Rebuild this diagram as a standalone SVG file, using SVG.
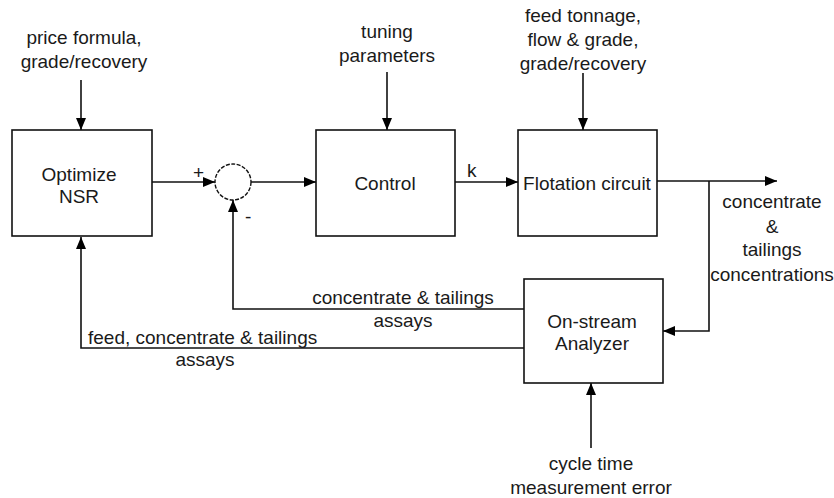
<svg xmlns="http://www.w3.org/2000/svg" width="834" height="498" viewBox="0 0 834 498">
<defs>
<marker id="ah" markerWidth="12" markerHeight="12" refX="12" refY="6" orient="auto" markerUnits="userSpaceOnUse">
<path d="M0,1 L12,6 L0,11 Z" fill="#000"/>
</marker>
<style>
.box{fill:#fff;stroke:#111;stroke-width:1.6}
.ln{fill:none;stroke:#111;stroke-width:1.6}
.arr{fill:none;stroke:#111;stroke-width:1.6;marker-end:url(#ah)}
text{font-family:"Liberation Sans",Arial,sans-serif;font-size:19px;fill:#1a1a1a}
.c{text-anchor:middle}
</style>
</defs>
<rect width="834" height="498" fill="#fff"/>
<g id="connectors">
<line class="arr" x1="81" y1="80" x2="81" y2="130"/>
<line class="arr" x1="387" y1="72" x2="387" y2="130"/>
<line class="arr" x1="583" y1="73" x2="583" y2="130"/>
<line class="arr" x1="152" y1="182" x2="215" y2="182"/>
<line class="arr" x1="251" y1="182" x2="316" y2="182"/>
<line class="arr" x1="455" y1="182" x2="518" y2="182"/>
<line class="arr" x1="657" y1="181" x2="777" y2="181"/>
<polyline class="arr" points="709,181 709,331 663,331"/>
<polyline class="arr" points="524,309 233,309 233,200"/>
<polyline class="arr" points="524,348 81,348 81,237"/>
<line class="arr" x1="591" y1="448" x2="591" y2="383"/>
</g>
<g id="optimize">
<rect class="box" x="12" y="130" width="140" height="106"/>
<text class="c" x="79" y="181">Optimize</text>
<text class="c" x="79" y="203">NSR</text>
</g>
<g id="summer">
<circle cx="233" cy="182" r="18" fill="#fff" stroke="#111" stroke-width="1.4" stroke-dasharray="4 1.5"/>
<text x="193" y="179">+</text>
<text x="245" y="223">-</text>
</g>
<g id="control">
<rect class="box" x="316" y="130" width="139" height="106"/>
<text class="c" x="385" y="190">Control</text>
</g>
<g id="flotation">
<rect class="box" x="518" y="130" width="139" height="106"/>
<text class="c" x="587" y="190">Flotation circuit</text>
</g>
<g id="analyzer">
<rect class="box" x="524" y="279" width="139" height="104"/>
<text class="c" x="592" y="328">On-stream</text>
<text class="c" x="592" y="350">Analyzer</text>
</g>
<g id="labels">
<text class="c" x="84" y="44">price formula,</text>
<text class="c" x="84" y="68">grade/recovery</text>
<text class="c" x="387" y="38">tuning</text>
<text class="c" x="387" y="62">parameters</text>
<text class="c" x="583" y="22">feed tonnage,</text>
<text class="c" x="583" y="46">flow &amp; grade,</text>
<text class="c" x="583" y="70">grade/recovery</text>
<text x="467" y="177">k</text>
<text class="c" x="772" y="208">concentrate</text>
<text class="c" x="772" y="233">&amp;</text>
<text class="c" x="772" y="256">tailings</text>
<text class="c" x="772" y="281">concentrations</text>
<text class="c" x="403" y="304">concentrate &amp; tailings</text>
<text class="c" x="403" y="327">assays</text>
<text x="88" y="344">feed, concentrate &amp; tailings</text>
<text class="c" x="205" y="366">assays</text>
<text class="c" x="591" y="470">cycle time</text>
<text class="c" x="591" y="494">measurement error</text>
</g>
</svg>
